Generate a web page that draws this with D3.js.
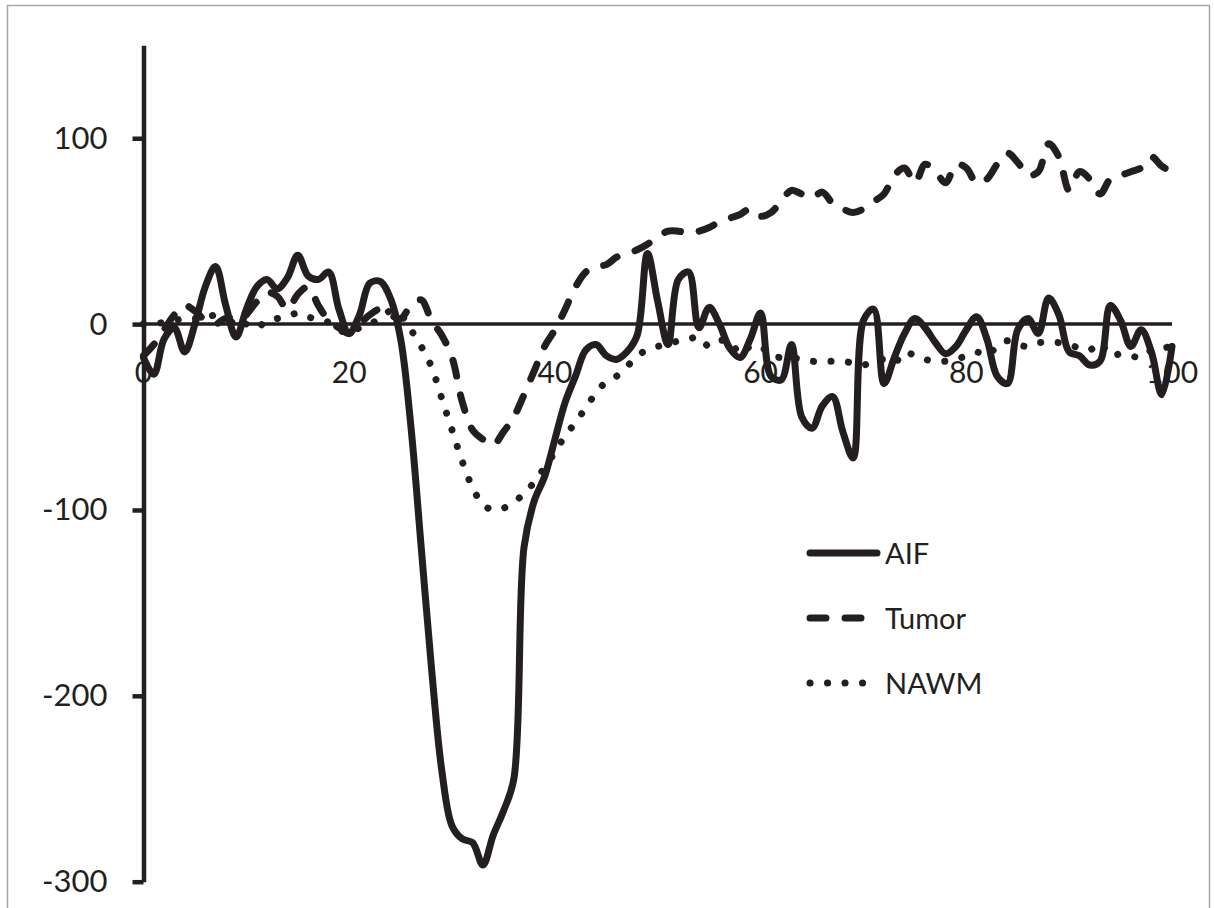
<!DOCTYPE html>
<html>
<head>
<meta charset="utf-8">
<script src="https://cdn.jsdelivr.net/npm/d3@7"></script>
<style>
  html, body { margin: 0; padding: 0; background: #fff; }
  svg { display: block; }
  text { font-family: Lato, "Open Sans", sans-serif; fill: #231f20; }
</style>
</head>
<body>
<script>
// ---- data ----
const timePoints = d3.range(0, 101, 1);

const aifValues = [
  -18, -27, -8, -2, -15, 0, 20, 31, 10, -7,
  8, 20, 24, 19, 25, 37, 26, 24, 28, 8,
  -5, 5, 22, 23, 14, -8, -55, -120, -185, -240,
  -270, -277, -279, -291, -275, -262, -245, -120, -95, -82,
  -62, -42, -28, -14, -11, -17, -19, -15, -6, 38,
  12, -11, 24, 28, -2, 9, 0, -13, -18, -8,
  6, -28, -30, -11, -50, -56, -44, -39, -58, -72,
  2, 8, -32, -18, -5, 3, -2, -10, -16, -12,
  -3, 4, -8, -28, -32, -3, 3, -5, 14, 5,
  -15, -17, -22, -20, 10, 2, -12, -3, -15, -38,
  -12
];

const tumorValues = [
  -17, -11, -3, 5, 10, 7, 2, 0, 3, 0,
  5, 12, 17, 15, 8, 16, 20, 10, 2, -2,
  -5, 0, 5, 8, 5, 3, 10, 13, 2, -6,
  -18, -42, -57, -62, -65, -58, -50, -38, -25, -12,
  -3, 8, 20, 28, 31, 32, 36, 38, 40, 43,
  47, 50, 50, 49, 50, 52, 55, 57, 59, 62,
  58, 60, 66, 72, 70, 68, 71, 65, 62, 60,
  62, 66, 70, 80, 84, 76, 86, 82, 76, 86,
  84, 76, 78, 86, 92, 87, 80, 82, 97, 90,
  72, 82, 78, 70, 78, 80, 82, 84, 90, 85,
  82
];

const nawmValues = [
  0, 0, 1, 2, 3, 3, 3, 5, 4, 2,
  0, -2, 2, 3, 4, 6, 4, 2, 1, -3,
  -5, -2, 0, 3, 7, 5, -3, -12, -23, -40,
  -57, -74, -88, -97, -100, -99, -96, -91, -85, -77,
  -69, -60, -53, -45, -37, -31, -28, -23, -17, -14,
  -12, -11, -9, -8, -7, -12, -9, -9, -16, -12,
  -12, -17, -18, -18, -19, -20, -20, -20, -20, -21,
  -22, -20, -19, -21, -15, -17, -19, -20, -20, -19,
  -17, -15, -17, -12, -9, -11, -12, -10, -10, -10,
  -11, -13, -14, -10, -17, -16, -17, -18, -14, -13,
  -12
];

const seriesNames = ["AIF", "Tumor", "NAWM"];
const xTickValues = [0, 20, 40, 60, 80, 100];
const yTickValues = [100, 0, -100, -200, -300];

// ---- layout ----
const W = 1214, H = 908;
const ink = "#231f20";

const svg = d3.select("body").append("svg")
  .attr("width", W).attr("height", H);

svg.append("rect").attr("x", 0).attr("y", 0).attr("width", W).attr("height", H).attr("fill", "#fff");

// outer frame
svg.append("rect")
  .attr("x", 7.5).attr("y", 5.5).attr("width", 1202).attr("height", 940)
  .attr("fill", "none").attr("stroke", "#a6a6a6").attr("stroke-width", 1.5);

const x = d3.scaleLinear().domain([0, 100]).range([143.5, 1172]);
const y = d3.scaleLinear().domain([-300, 150]).range([881.7, 45.3]);

// y axis
const yAxis = svg.append("g")
  .attr("transform", `translate(${x(0)},0)`)
  .call(d3.axisLeft(y).tickValues(yTickValues).tickSize(11).tickSizeOuter(0).tickPadding(25).tickFormat(d => String(d)));
yAxis.select(".domain").attr("stroke", ink).attr("stroke-width", 4.5);
yAxis.selectAll(".tick line").attr("stroke", ink).attr("stroke-width", 4.5);
yAxis.selectAll(".tick text").attr("font-size", 31).attr("fill", ink).style("font-family", "Lato, sans-serif");

// x axis line at 0
svg.append("line")
  .attr("x1", x(0)).attr("x2", x(100)).attr("y1", y(0)).attr("y2", y(0))
  .attr("stroke", ink).attr("stroke-width", 3.5);

// x tick labels
svg.append("g").selectAll("text").data(xTickValues).join("text")
  .attr("x", d => x(d)).attr("y", y(0) + 59)
  .attr("text-anchor", "middle").attr("font-size", 30)
  .text(d => d);

// series
const styles = {
  AIF:   { dash: null },
  Tumor: { dash: "16,19" },
  NAWM:  { dash: "0.1,17.4" }
};
const valuesByName = { AIF: aifValues, Tumor: tumorValues, NAWM: nawmValues };

const line = d3.line()
  .x((d, i) => x(timePoints[i]))
  .y(d => y(d))
  .curve(d3.curveCatmullRom.alpha(0.5));

seriesNames.slice().reverse().forEach(name => {
  const p = svg.append("path")
    .datum(valuesByName[name])
    .attr("d", line)
    .attr("fill", "none")
    .attr("stroke", ink)
    .attr("stroke-width", 7)
    .attr("stroke-linecap", "round")
    .attr("stroke-linejoin", "round");
  if (styles[name].dash) p.attr("stroke-dasharray", styles[name].dash);
});

// legend
const legend = svg.append("g");
const legY = [553, 618, 683];
const legEnd = { AIF: 877, Tumor: 862, NAWM: 863 };
seriesNames.forEach((name, i) => {
  const g = legend.append("g");
  const l = g.append("line")
    .attr("x1", 810)
    .attr("x2", legEnd[name])
    .attr("y1", legY[i]).attr("y2", legY[i])
    .attr("stroke", ink).attr("stroke-width", 7)
    .attr("stroke-linecap", "round");
  if (styles[name].dash) l.attr("stroke-dasharray", styles[name].dash);
  g.append("text")
    .attr("x", 885).attr("y", legY[i] + 11)
    .attr("font-size", 29)
    .text(name);
});
</script>
</body>
</html>
